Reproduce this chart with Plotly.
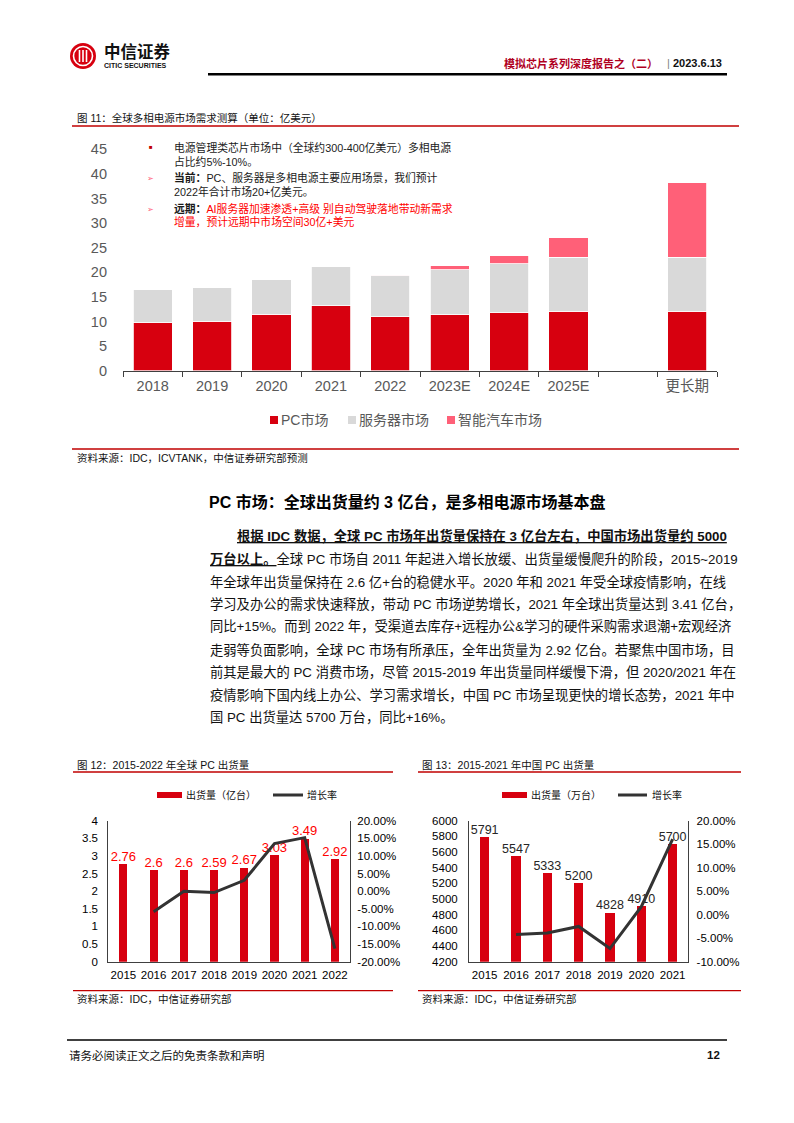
import plotly.graph_objects as go

W, H = 794, 1123
FONT = "Liberation Sans, Noto Sans CJK SC, sans-serif"

# ---------------- Figure 11 data ----------------
f11_categories = ["2018", "2019", "2020", "2021", "2022", "2023E", "2024E", "2025E", " ", "更长期"]
f11_pc = [9.75, 10.1, 11.5, 13.2, 11.0, 11.4, 11.8, 12.1, None, 12.1]
f11_server = [6.75, 6.85, 7.1, 7.9, 8.25, 9.1, 9.9, 11.0, None, 11.0]
f11_car = [0, 0, 0, 0, 0.15, 0.8, 1.7, 3.9, None, 15.1]
f11_names = ["PC市场", "服务器市场", "智能汽车市场"]
f11_yticks = [0, 5, 10, 15, 20, 25, 30, 35, 40, 45]

# ---------------- Figure 12 data ----------------
f12_years = ["2015", "2016", "2017", "2018", "2019", "2020", "2021", "2022"]
f12_ship = [2.76, 2.6, 2.6, 2.59, 2.67, 3.03, 3.49, 2.92]
f12_growth = [None, -0.058, 0.0, -0.004, 0.031, 0.135, 0.152, -0.163]
f12_left_ticks = [0, 0.5, 1, 1.5, 2, 2.5, 3, 3.5, 4]
f12_right_vals = [-0.20, -0.15, -0.10, -0.05, 0.0, 0.05, 0.10, 0.15, 0.20]
f12_right_text = ["-20.00%", "-15.00%", "-10.00%", "-5.00%", "0.00%", "5.00%", "10.00%", "15.00%", "20.00%"]

# ---------------- Figure 13 data ----------------
f13_years = ["2015", "2016", "2017", "2018", "2019", "2020", "2021"]
f13_ship = [5791, 5547, 5333, 5200, 4828, 4910, 5700]
f13_growth = [None, -0.042, -0.039, -0.025, -0.072, 0.017, 0.161]
f13_left_ticks = [4200, 4400, 4600, 4800, 5000, 5200, 5400, 5600, 5800, 6000]
f13_right_vals = [-0.10, -0.05, 0.0, 0.05, 0.10, 0.15, 0.20]
f13_right_text = ["-10.00%", "-5.00%", "0.00%", "5.00%", "10.00%", "15.00%", "20.00%"]

RED = "#D7000F"
GRAY = "#D9D9D9"
PINK = "#FF6078"
LINE_RED = "#C00000"


def px(x):
    return x / W


def py(y):
    return 1 - y / H


fig = go.Figure()

# Figure 11 stacked bars
for vals, col, name in [(f11_pc, RED, f11_names[0]), (f11_server, GRAY, f11_names[1]), (f11_car, PINK, f11_names[2])]:
    fig.add_trace(go.Bar(x=f11_categories, y=vals, name=name, marker=dict(color=col, line=dict(color="white", width=0.8)),
                         width=0.66, xaxis="x", yaxis="y", showlegend=False, hoverinfo="skip"))

# Figure 12
fig.add_trace(go.Bar(x=f12_years, y=f12_ship, marker=dict(color=RED, line=dict(width=0)), width=0.27,
                     xaxis="x2", yaxis="y2", showlegend=False, hoverinfo="skip"))
fig.add_trace(go.Scatter(x=f12_years, y=f12_ship, mode="text", text=[f"{v:g}" for v in f12_ship],
                         textposition="top center", textfont=dict(size=13, color="#FF0000", family=FONT),
                         cliponaxis=False, xaxis="x2", yaxis="y2", showlegend=False, hoverinfo="skip"))
fig.add_trace(go.Scatter(x=f12_years, y=f12_growth, mode="lines", line=dict(color="#333333", width=3),
                         xaxis="x2", yaxis="y3", showlegend=False, hoverinfo="skip", connectgaps=False))

# Figure 13
fig.add_trace(go.Bar(x=f13_years, y=f13_ship, marker=dict(color=RED, line=dict(width=0)), width=0.3,
                     xaxis="x3", yaxis="y4", showlegend=False, hoverinfo="skip"))
fig.add_trace(go.Scatter(x=f13_years, y=f13_ship, mode="text", text=[str(v) for v in f13_ship],
                         textposition="top center", textfont=dict(size=12.5, color="#262626", family=FONT),
                         cliponaxis=False, xaxis="x3", yaxis="y4", showlegend=False, hoverinfo="skip"))
fig.add_trace(go.Scatter(x=f13_years, y=f13_growth, mode="lines", line=dict(color="#333333", width=3),
                         xaxis="x3", yaxis="y5", showlegend=False, hoverinfo="skip"))

AX_COL = "#404040"
tf_gray = dict(size=14.5, color="#595959", family=FONT)
tf_small = dict(size=11.5, color="#000000", family=FONT)

fig.update_layout(
    width=W, height=H, margin=dict(l=0, r=0, t=0, b=0, pad=0, autoexpand=False), autosize=False,
    paper_bgcolor="white", plot_bgcolor="rgba(0,0,0,0)",
    barmode="stack", font=dict(family=FONT),
    xaxis=dict(domain=[px(123), px(717)], anchor="y", type="category", categoryorder="array",
               categoryarray=f11_categories, tickson="boundaries", ticks="outside", ticklen=5,
               tickcolor=AX_COL, showline=True, linecolor=AX_COL, linewidth=1, showgrid=False,
               zeroline=False, tickfont=tf_gray, ticklabelstandoff=2, fixedrange=True, automargin=False),
    yaxis=dict(domain=[py(370.7), py(149.3)], anchor="x", range=[0, 45], tickvals=f11_yticks,
               showline=False, showgrid=False, zeroline=False, ticks="", tickfont=tf_gray,
               ticklabelstandoff=15, fixedrange=True, automargin=False),
    xaxis2=dict(domain=[px(108.3), px(350)], anchor="y2", type="category", showline=True,
                linecolor=AX_COL, linewidth=1, ticks="", showgrid=False, zeroline=False,
                tickfont=tf_small, ticklabelstandoff=2, fixedrange=True, automargin=False),
    yaxis2=dict(domain=[py(961.7), py(820.7)], anchor="x2", range=[0, 4], tickvals=f12_left_ticks,
                showline=True, linecolor=AX_COL, linewidth=1, ticks="", showgrid=False, zeroline=False,
                tickfont=tf_small, ticklabelstandoff=7, fixedrange=True, automargin=False),
    yaxis3=dict(overlaying="y2", side="right", anchor="x2", range=[-0.2, 0.2], tickvals=f12_right_vals,
                ticktext=f12_right_text, showline=True, linecolor=AX_COL, linewidth=1, ticks="",
                showgrid=False, zeroline=False, tickfont=tf_small, ticklabelstandoff=4, fixedrange=True,
                automargin=False),
    xaxis3=dict(domain=[px(469), px(688.3)], anchor="y4", type="category", showline=True,
                linecolor=AX_COL, linewidth=1, ticks="", showgrid=False, zeroline=False,
                tickfont=tf_small, ticklabelstandoff=2, fixedrange=True, automargin=False),
    yaxis4=dict(domain=[py(961.7), py(820.7)], anchor="x3", range=[4200, 6000], tickvals=f13_left_ticks,
                showline=True, linecolor=AX_COL, linewidth=1, ticks="", showgrid=False, zeroline=False,
                tickfont=tf_small, ticklabelstandoff=8, fixedrange=True, automargin=False),
    yaxis5=dict(overlaying="y4", side="right", anchor="x3", range=[-0.10, 0.20], tickvals=f13_right_vals,
                ticktext=f13_right_text, showline=True, linecolor=AX_COL, linewidth=1, ticks="",
                showgrid=False, zeroline=False, tickfont=tf_small, ticklabelstandoff=5, fixedrange=True,
                automargin=False),
)

shapes = []


def hline(x0, x1, y, color, width):
    shapes.append(dict(type="line", xref="paper", yref="paper", x0=px(x0), x1=px(x1), y0=py(y), y1=py(y),
                       line=dict(color=color, width=width)))


def rect(x0, y0, x1, y1, color):
    shapes.append(dict(type="rect", xref="paper", yref="paper", x0=px(x0), x1=px(x1), y0=py(y1), y1=py(y0),
                       fillcolor=color, line=dict(width=0)))


# logo
shapes.append(dict(type="circle", xref="paper", yref="paper", x0=px(70), x1=px(96), y0=py(69), y1=py(43),
                   fillcolor="#D7000F", line=dict(width=0)))
shapes.append(dict(type="circle", xref="paper", yref="paper", x0=px(73.5), x1=px(92.5), y0=py(65.5), y1=py(46.5),
                   fillcolor="rgba(0,0,0,0)", line=dict(color="white", width=1.6)))
for lx in (79.5, 83, 86.5):
    shapes.append(dict(type="line", xref="paper", yref="paper", x0=px(lx), x1=px(lx), y0=py(50), y1=py(62),
                       line=dict(color="white", width=1.6)))

hline(208, 727, 74.3, "#000000", 2.6)
hline(72, 739, 126, LINE_RED, 1.3)
hline(72, 739, 449, LINE_RED, 1.3)
hline(73, 393, 772, LINE_RED, 1.3)
hline(418, 741, 772, LINE_RED, 1.3)
hline(73, 393, 990.7, LINE_RED, 1.3)
hline(418, 741, 990.7, LINE_RED, 1.3)
hline(67, 727, 1040, "#000000", 1.5)

# Figure 11 legend swatches
rect(270, 416, 278, 424, RED)
rect(348, 416, 356, 424, GRAY)
rect(447, 416, 455, 424, PINK)
# Figure 12 / 13 legend symbols
rect(157, 792, 182, 798, RED)
hline(273, 303, 795, "#333333", 3)
rect(502, 792, 527, 798, RED)
hline(618, 647, 795, "#333333", 3)

annotations = []


def ann(x, y, text, size, color="#000000", xanchor="left"):
    annotations.append(dict(x=px(x), y=py(y), xref="paper", yref="paper", text=text, showarrow=False,
                            xanchor=xanchor, yanchor="middle", align="left",
                            font=dict(size=size, color=color, family=FONT)))


# header
ann(102, 51, "<b>中信证券</b>", 16.5, "#111111")
ann(101.5, 65.5, "<b>CITIC SECURITIES</b>", 7, "#111111")
ann(660, 63, "<b>模拟芯片系列深度报告之（二）</b>", 11, "#B0001E", xanchor="right")
ann(668, 63, "|", 11, "#808080", xanchor="center")
ann(724, 63, "<b>2023.6.13</b>", 11, "#111111", xanchor="right")

# figure 11 caption and notes
ann(75, 118, "图 11：全球多相电源市场需求测算（单位：亿美元）", 10.5, "#111111")
ann(150.7, 147.3, "■", 6, "#C00000", xanchor="center")
ann(171.5, 147.3, "电源管理类芯片市场中（全球约300-400亿美元）多相电源", 10.8, "#1a1a1a")
ann(171.5, 161.7, "占比约5%-10%。", 10.8, "#1a1a1a")
ann(150.7, 178.8, "➢", 7.5, PINK, xanchor="center")
ann(171.5, 177.7, "<b>当前：</b>PC、服务器是多相电源主要应用场景，我们预计", 10.8, "#1a1a1a")
ann(171.5, 191.7, "2022年合计市场20+亿美元。", 10.8, "#1a1a1a")
ann(150.7, 209, "➢", 7.5, PINK, xanchor="center")
ann(171.5, 208.3, '<b>远期：</b><span style="color:#FF0000">AI服务器加速渗透+高级 别自动驾驶落地带动新需求</span>',
    10.8, "#1a1a1a")
ann(171.5, 221.5, "增量，预计远期中市场空间30亿+美元", 10.8, "#FF0000")

# figure 11 legend texts
ann(279, 420, f11_names[0], 14, "#595959")
ann(357, 420, f11_names[1], 14, "#595959")
ann(456, 420, f11_names[2], 14, "#595959")
ann(75, 458, "资料来源：IDC，ICVTANK，中信证券研究部预测", 10.5, "#111111")

# heading + paragraph
ann(406.5, 501.7, "<b>PC 市场：全球出货量约 3 亿台，是多相电源市场基本盘</b>", 16, "#000000", xanchor="center")
U = '<span style="text-decoration:underline">'
para = [
    (235, U + "<b>根据 IDC 数据，全球 PC 市场年出货量保持在 3 亿台左右，中国市场出货量约 5000</b></span>"),
    (208, U + "<b>万台以上。</b></span>全球 PC 市场自 2011 年起进入增长放缓、出货量缓慢爬升的阶段，2015~2019"),
    (208, "年全球年出货量保持在 2.6 亿+台的稳健水平。2020 年和 2021 年受全球疫情影响，在线"),
    (208, "学习及办公的需求快速释放，带动 PC 市场逆势增长，2021 年全球出货量达到 3.41 亿台，"),
    (208, "同比+15%。而到 2022 年，受渠道去库存+远程办公&学习的硬件采购需求退潮+宏观经济"),
    (208, "走弱等负面影响，全球 PC 市场有所承压，全年出货量为 2.92 亿台。若聚焦中国市场，目"),
    (208, "前其是最大的 PC 消费市场，尽管 2015-2019 年出货量同样缓慢下滑，但 2020/2021 年在"),
    (208, "疫情影响下国内线上办公、学习需求增长，中国 PC 市场呈现更快的增长态势，2021 年中"),
    (208, "国 PC 出货量达 5700 万台，同比+16%。"),
]
for i, (x0, t) in enumerate(para):
    ann(x0, 536.5 + i * 22.6, t, 13.3, "#111111")

# figure 12 / 13 captions, legends, sources
ann(75, 765, "图 12：2015-2022 年全球 PC 出货量", 10.5, "#111111")
ann(184, 795, "出货量（亿台）", 10, "#111111")
ann(305, 795, "增长率", 10, "#111111")
ann(75, 999.3, "资料来源：IDC，中信证券研究部", 10.5, "#111111")

ann(420, 765, "图 13：2015-2021 年中国 PC 出货量", 10.5, "#111111")
ann(529, 795, "出货量（万台）", 10, "#111111")
ann(650, 795, "增长率", 10, "#111111")
ann(420, 999.3, "资料来源：IDC，中信证券研究部", 10.5, "#111111")

# footer
ann(67, 1055, "请务必阅读正文之后的免责条款和声明", 11.5, "#111111")
ann(722, 1055, "<b>12</b>", 11.5, "#111111", xanchor="right")

fig.update_layout(shapes=shapes, annotations=annotations)

fig.write_html("out.html", config={"displayModeBar": False, "staticPlot": True},
               post_script="document.body.style.margin='0';document.body.style.overflow='hidden';")
